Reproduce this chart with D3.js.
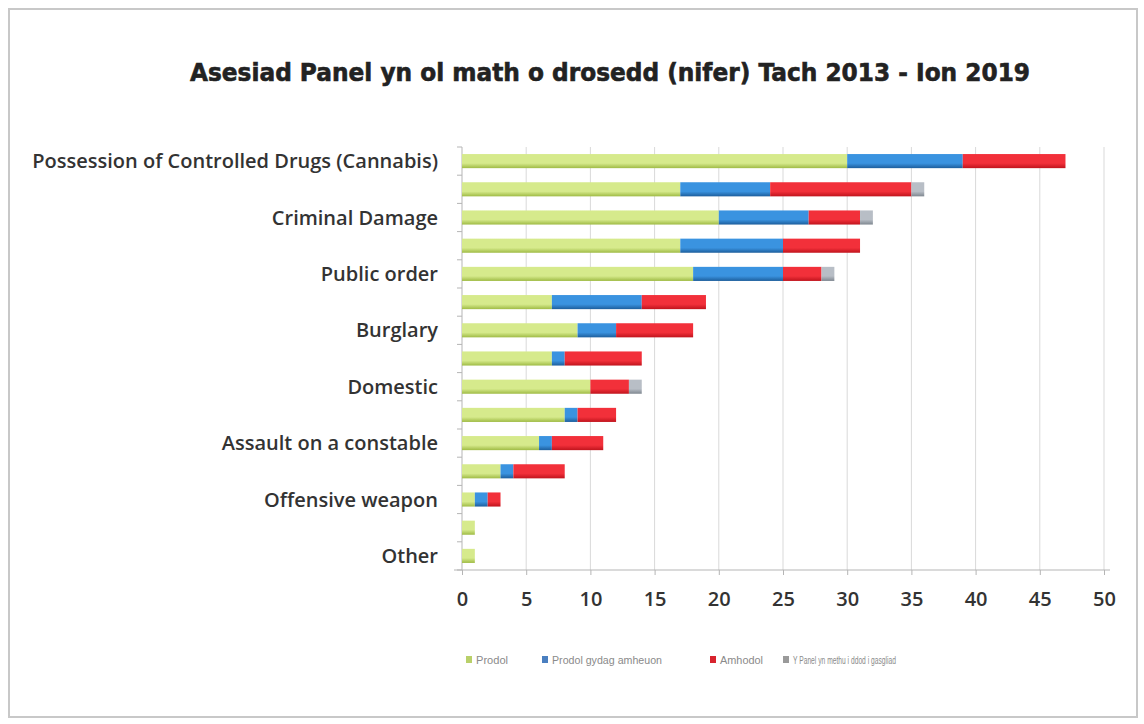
<!DOCTYPE html>
<meta charset="utf-8">
<head>
    <style>
        body {
            margin: 0;
            background-color: #ffffff;
        }
        .frame {
            fill: none;
            stroke: #c8c8c8;
            stroke-width: 2;
        }
        .grid line {
            stroke: #d9d9d9;
        }
        .axis path, .axis line {
            stroke: #b5b5b5;
        }
        .cat {
            font-family: "Open Sans";
            font-weight: 600;
            font-size: 20px;
            fill: #333;
        }
        .tick text {
            font-family: "Open Sans";
            font-weight: 600;
            font-size: 20px;
            fill: #333;
        }
        .legend text {
            font-family: "Liberation Sans";
            font-size: 10px;
            fill: #8a8a8a;
        }
    </style>
    <script src="https://d3js.org/d3.v7.min.js"></script>
</head>

<body>
<div id="chart"></div>
</body>

<script>
// rows top to bottom, only every other one carries a label
var categories = ["Possession of Controlled Drugs (Cannabis)", "", "Criminal Damage", "", "Public order", "",
    "Burglary", "", "Domestic", "", "Assault on a constable", "", "Offensive weapon", "", "Other"];
var prodol   = [30, 17, 20, 17, 18, 7, 9, 7, 10, 8, 6, 3, 1, 1, 1];
var amheuon  = [9, 7, 7, 8, 7, 7, 3, 1, 0, 1, 1, 1, 1, 0, 0];
var amhodol  = [8, 11, 4, 6, 3, 5, 6, 6, 3, 3, 4, 4, 1, 0, 0];
var methu    = [0, 1, 1, 0, 1, 0, 0, 0, 1, 0, 0, 0, 0, 0, 0];
var seriesNames = ["Prodol", "Prodol gydag amheuon", "Amhodol", "Y Panel yn methu i ddod i gasgliad"];
var xTicks = [0, 5, 10, 15, 20, 25, 30, 35, 40, 45, 50];

var colors = [
    ["#d6ea8c", "#9fbb45"],
    ["#3a93e0", "#1d5e9c"],
    ["#f2303a", "#c0141d"],
    ["#b8bec6", "#7f8790"]
];
var legendColors = ["#b9d06a", "#4a7fc0", "#d8242e", "#9a9a9a"];

var width = 1144, height = 724;
var margin = { top: 147, left: 462, right: 40, bottom: 154 };

var svg = d3.select("#chart").append("svg")
    .attr("width", width)
    .attr("height", height);

var defs = svg.append("defs");
colors.forEach(function (c, i) {
    var g = defs.append("linearGradient")
        .attr("id", "grad" + i)
        .attr("x1", 0).attr("y1", 0).attr("x2", 0).attr("y2", 1);
    g.append("stop").attr("offset", "0%").attr("stop-color", c[0]);
    g.append("stop").attr("offset", "65%").attr("stop-color", c[0]);
    g.append("stop").attr("offset", "100%").attr("stop-color", c[1]);
});

svg.append("rect").attr("class", "frame")
    .attr("x", 9).attr("y", 9).attr("width", 1128).attr("height", 708);

svg.append("text")
    .attr("x", 610).attr("y", 81)
    .attr("text-anchor", "middle")
    .attr("textLength", 840)
    .attr("lengthAdjust", "spacingAndGlyphs")
    .style("font-family", "DejaVu Sans")
    .style("font-weight", "bold")
    .style("font-size", "24px")
    .style("fill", "#222")
    .style("stroke", "#222")
    .style("stroke-width", "0.6px")
    .text("Asesiad Panel yn ol math o drosedd (nifer) Tach 2013 - Ion 2019");

var plotH = height - margin.top - margin.bottom;

var x = d3.scaleLinear()
    .domain([0, 50])
    .range([margin.left, width - margin.right]);

var y = d3.scaleBand()
    .domain(d3.range(categories.length))
    .range([margin.top, margin.top + plotH])
    .paddingInner(0.5)
    .paddingOuter(0.25);

// vertical gridlines
svg.append("g").attr("class", "grid")
    .selectAll("line")
    .data(xTicks.slice(1))
    .enter().append("line")
    .attr("x1", function (d) { return x(d) }).attr("x2", function (d) { return x(d) })
    .attr("y1", margin.top).attr("y2", margin.top + plotH);

// y axis line with ticks at category boundaries
var yAxis = svg.append("g").attr("class", "axis");
yAxis.append("line")
    .attr("x1", margin.left).attr("x2", margin.left)
    .attr("y1", margin.top).attr("y2", margin.top + plotH);
yAxis.selectAll(".ytick")
    .data(d3.range(categories.length + 1))
    .enter().append("line")
    .attr("x1", margin.left - 5).attr("x2", margin.left)
    .attr("y1", function (i) { return margin.top + i * y.step() })
    .attr("y2", function (i) { return margin.top + i * y.step() });

// stacked bars
var rows = categories.map(function (c, i) {
    return { i: i, vals: [prodol[i], amheuon[i], amhodol[i], methu[i]] };
});
var stacked = d3.stack().keys([0, 1, 2, 3]).value(function (d, k) { return d.vals[k] })(rows);

svg.append("g").selectAll("g")
    .data(stacked)
    .enter().append("g")
    .attr("fill", function (d, k) { return "url(#grad" + k + ")" })
    .selectAll("rect")
    .data(function (d) { return d.filter(function (s) { return s[1] > s[0] }) })
    .enter().append("rect")
    .attr("x", function (d) { return x(d[0]) })
    .attr("width", function (d) { return x(d[1]) - x(d[0]) })
    .attr("y", function (d) { return y(d.data.i) })
    .attr("height", y.bandwidth());

// category labels
svg.append("g").selectAll("text")
    .data(rows.filter(function (r) { return categories[r.i] !== "" }))
    .enter().append("text")
    .attr("class", "cat")
    .attr("x", 438)
    .attr("y", function (d) { return y(d.i) + y.bandwidth() / 2 })
    .attr("dy", "0.35em")
    .attr("text-anchor", "end")
    .text(function (d) { return categories[d.i] });

// x axis
svg.append("g").attr("class", "axis")
    .attr("transform", "translate(0," + (margin.top + plotH) + ")")
    .call(d3.axisBottom(x).tickValues(xTicks).tickSize(5).tickPadding(17))
    .call(function (g) { g.select(".domain").attr("d", "M" + (margin.left - 8) + ",0H" + (width - margin.right + 6)) });

// legend
var legendX = [466, 542, 710, 783];
var legendW = [32, 110, 43, 103];
var legend = svg.append("g").attr("class", "legend");
seriesNames.forEach(function (name, k) {
    legend.append("rect")
        .attr("x", legendX[k]).attr("y", 656)
        .attr("width", 6).attr("height", 7)
        .attr("fill", legendColors[k]);
    legend.append("text")
        .attr("x", legendX[k] + 10).attr("y", 664)
        .attr("textLength", legendW[k])
        .attr("lengthAdjust", "spacingAndGlyphs")
        .text(name);
});
</script>
